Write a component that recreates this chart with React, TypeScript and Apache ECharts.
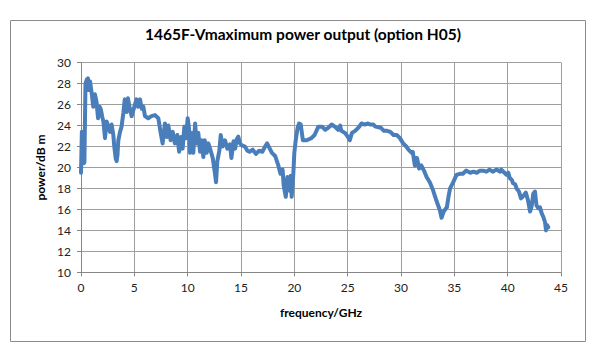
import React, { useEffect, useRef } from "react";
import * as echarts from "echarts";

const freqGHz = [
  0.0, 0.08, 0.15, 0.25, 0.32, 0.42, 0.55, 0.65, 0.72, 0.85, 1.0, 1.15, 1.3, 1.45, 1.6, 1.75, 1.87, 2.0, 2.1, 2.25,
  2.4, 2.56, 2.72, 2.87, 3.03, 3.12, 3.25, 3.34, 3.42, 3.5, 3.66, 3.8, 3.97, 4.1, 4.28, 4.4, 4.6, 4.75, 5.0, 5.2,
  5.35, 5.53, 5.7, 5.84, 6.0, 6.3, 6.6, 6.94, 7.25, 7.47, 7.65, 7.87, 8.03, 8.19, 8.4, 8.6, 8.8, 9.03, 9.2, 9.38,
  9.53, 9.69, 9.84, 10.0, 10.12, 10.22, 10.38, 10.53, 10.7, 10.84, 11.0, 11.16, 11.3, 11.47, 11.6, 11.78, 11.94, 12.1, 12.35, 12.56,
  12.66, 12.78, 12.97, 13.1, 13.28, 13.5, 13.72, 13.97, 14.1, 14.3, 14.45, 14.6, 14.75, 14.9, 15.1, 15.37, 15.6, 15.8, 16.1, 16.4,
  16.7, 17.0, 17.2, 17.45, 17.6, 17.9, 18.2, 18.5, 18.7, 18.9, 19.0, 19.2, 19.35, 19.5, 19.65, 19.75, 19.9, 20.0, 20.13, 20.3,
  20.44, 20.6, 20.8, 21.16, 21.6, 21.9, 22.25, 22.6, 22.9, 23.2, 23.5, 23.8, 24.1, 24.3, 24.4, 24.75, 25.0, 25.2, 25.4, 25.7,
  26.0, 26.3, 26.6, 26.9, 27.1, 27.4, 27.6, 28.1, 28.4, 28.7, 29.0, 29.3, 29.6, 29.9, 30.2, 30.5, 30.7, 31.0, 31.1, 31.3,
  31.4, 31.5, 31.7, 31.9, 32.2, 32.4, 32.7, 33.0, 33.3, 33.65, 33.8, 34.0, 34.3, 34.45, 34.6, 34.9, 35.2, 35.5, 35.8, 36.1,
  36.5, 36.8, 37.1, 37.4, 37.7, 38.0, 38.3, 38.6, 38.96, 39.3, 39.4, 39.7, 39.9, 40.06, 40.2, 40.4, 40.5, 40.7, 40.84, 41.06,
  41.25, 41.4, 41.56, 41.7, 41.9, 42.1, 42.25, 42.4, 42.56, 42.7, 42.87, 43.03, 43.2, 43.34, 43.5, 43.6, 43.7, 43.8,
];

const powerDBm = [
  19.5, 23.4, 21.0, 20.4, 20.5, 28.0, 28.4, 28.5, 27.4, 28.2, 27.1, 25.8, 27.0, 26.3, 24.7, 25.8, 25.5, 24.8, 24.4, 22.8,
  24.4, 23.9, 23.4, 24.1, 23.1, 22.0, 20.9, 20.6, 21.2, 22.6, 23.4, 23.9, 25.2, 26.5, 25.3, 26.6, 25.5, 24.9, 25.8, 26.5,
  25.8, 26.5, 25.6, 25.8, 24.9, 24.7, 24.9, 25.0, 24.7, 23.3, 22.3, 24.2, 22.9, 24.0, 22.6, 23.4, 22.3, 23.1, 21.5, 22.9,
  21.8, 23.9, 22.8, 24.7, 23.8, 21.4, 23.3, 21.4, 24.2, 22.3, 23.3, 21.5, 22.6, 21.0, 22.6, 21.4, 22.3, 21.8, 20.9, 19.4,
  18.6, 20.6, 21.6, 23.1, 22.0, 22.6, 21.8, 22.2, 20.9, 22.5, 21.8, 22.7, 22.95, 22.3, 22.1, 22.0, 21.6, 21.5, 21.7, 21.3,
  21.6, 21.5, 21.9, 22.3, 22.0, 21.4, 21.1, 20.2, 19.4, 19.8, 18.3, 17.2, 19.1, 17.8, 19.2, 17.2, 19.3, 21.4, 22.6, 23.75,
  24.2, 24.1, 22.6, 22.6, 22.8, 23.1, 23.9, 23.9, 23.6, 23.8, 24.1, 23.9, 23.6, 24.0, 23.5, 23.3, 22.95, 22.6, 23.3, 23.5,
  23.8, 24.2, 24.1, 24.2, 24.1, 24.1, 23.9, 23.8, 23.5, 23.5, 23.4, 23.1, 23.1, 22.8, 22.3, 22.0, 21.7, 21.4, 21.5, 20.2,
  20.9, 20.9, 19.9, 20.2, 19.6, 19.1, 18.6, 17.85, 16.9, 15.9, 15.2, 15.8, 16.2, 17.2, 18.0, 18.6, 19.3, 19.4, 19.4, 19.7,
  19.5, 19.6, 19.5, 19.7, 19.7, 19.6, 19.8, 19.6, 19.8, 19.6, 19.8, 19.5, 19.3, 19.5, 19.0, 18.8, 18.5, 18.4, 18.0, 17.7,
  17.05, 17.2, 17.4, 17.6, 16.9, 15.8, 16.3, 17.5, 17.7, 16.4, 16.1, 16.2, 15.6, 15.3, 14.8, 14.0, 14.5, 14.3,
];

const titleText = "1465F-Vmaximum power output (option H05)";
const xAxisName = "frequency/GHz";
const yAxisName = "power/dB m";

export default function App() {
  const ref = useRef<HTMLDivElement>(null);
  useEffect(() => {
    document.body.style.margin = "0";
    const chart = echarts.init(ref.current!, null, { renderer: "svg" });
    const data = freqGHz.map((f, i) => [f, powerDBm[i]]);
    const font = "Lato, 'Open Sans', sans-serif";
    chart.setOption({
      animation: false,
      backgroundColor: "#ffffff",
      title: {
        text: titleText,
        left: 298,
        textAlign: "center",
        top: 21,
        textStyle: { fontFamily: font, fontSize: 15.5, fontWeight: "bold", color: "#000" },
      },
      graphic: [
        {
          type: "rect",
          shape: { x: 10.5, y: 20.5, width: 575, height: 321 },
          style: { fill: "none", stroke: "#8c8c8c", lineWidth: 1 },
          silent: true,
          z: -1,
        },
      ],
      grid: { left: 81, right: 39, top: 62.7, bottom: 83.7, containLabel: false },
      xAxis: {
        type: "value",
        min: 0,
        max: 45,
        interval: 5,
        name: xAxisName,
        nameLocation: "middle",
        nameGap: 34,
        nameTextStyle: { fontFamily: font, fontSize: 12, fontWeight: "bold", color: "#000" },
        axisLine: { show: true, lineStyle: { color: "#868686", width: 1 } },
        axisTick: { show: true, inside: false, length: 4, lineStyle: { color: "#868686" } },
        axisLabel: { fontFamily: font, fontSize: 12, color: "#222", margin: 9 },
        splitLine: { show: true, lineStyle: { color: "#9e9e9e", width: 1 } },
      },
      yAxis: {
        type: "value",
        min: 10,
        max: 30,
        interval: 2,
        name: yAxisName,
        nameLocation: "middle",
        nameGap: 32,
        nameTextStyle: { fontFamily: font, fontSize: 12, fontWeight: "bold", color: "#000" },
        axisLine: { show: true, lineStyle: { color: "#868686", width: 1 } },
        axisTick: { show: true, inside: false, length: 4, lineStyle: { color: "#868686" } },
        axisLabel: { fontFamily: font, fontSize: 12, color: "#222", margin: 10 },
        splitLine: { show: true, lineStyle: { color: "#9e9e9e", width: 1 } },
      },
      series: [
        {
          type: "line",
          data,
          showSymbol: false,
          smooth: false,
          lineStyle: { color: "#4a7ebb", width: 4, join: "round", cap: "round" },
          itemStyle: { color: "#4a7ebb" },
        },
      ],
    });
    return () => chart.dispose();
  }, []);
  return <div ref={ref} style={{ width: 600, height: 356 }} />;
}
